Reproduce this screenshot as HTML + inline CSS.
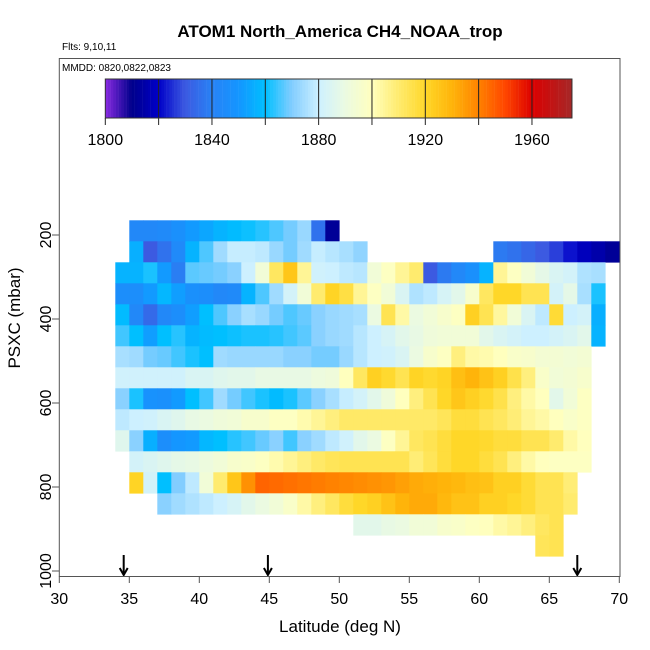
<!DOCTYPE html>
<html><head><meta charset="utf-8"><style>
html,body{margin:0;padding:0;background:#fff}
svg{display:block;font-family:"Liberation Sans",Arial,sans-serif}
</style></head><body>
<svg id="chart" width="650" height="650" viewBox="0 0 650 650" xmlns="http://www.w3.org/2000/svg">
<rect width="650" height="650" fill="#fff"/>
<text x="340" y="37" text-anchor="middle" font-size="17" font-weight="bold">ATOM1 North_America CH4_NOAA_trop</text>
<text x="62" y="50" font-size="10">Flts: 9,10,11</text>
<g id="cells"></g>
<g id="cbar"></g>
<g id="axes"></g>
<rect x="59.3" y="58.5" width="560.7" height="518" fill="none" stroke="#555" stroke-width="1"/>
<text x="62" y="71" font-size="10">MMDD: 0820,0822,0823</text>
<text x="340" y="632" text-anchor="middle" font-size="17">Latitude (deg N)</text>
<text transform="translate(20,318) rotate(-90)" text-anchor="middle" font-size="17">PSXC (mbar)</text>
</svg>
<script>
// ---- data ----
const rowPressures = [190,240,290,340,390,440,490,540,590,640,690,740,790,840,890,940];
const rowStartLat = [35,35,34,34,34,34,34,34,34,34,34,35,35,37,51,64];
const row0 = [1843,1843,1844,1847,1851,1854,1857,1859,1861,1863,1866,1869,1873,1836,1812];
const row1 = [1856,1830,1836,1844,1857,1866,1874,1879,1879,1878,1873,1869,1874,1879,1877,1875,1872,null,null,null,null,null,null,null,null,null,1838,1836,1833,1830,1827,1822,1818,1815,1812];
const row2 = [1857,1857,1862,1851,1839,1867,1868,1869,1871,1880,1893,1912,1925,1905,1881,1880,1878,1877,1893,1899,1905,1910,1830,1838,1843,1847,1857,1905,1899,1893,1888,1884,1882,1876,1875];
const row3 = [1846,1846,1851,1858,1852,1847,1846,1843,1844,1857,1866,1874,1882,1893,1910,1921,1916,1905,1899,1893,1884,1876,1878,1883,1887,1896,1912,1920,1920,1914,1914,1882,1888,1875,1862];
const row4 = [1859,1843,1834,1843,1846,1852,1860,1866,1871,1875,1873,1869,1866,1868,1871,1873,1874,1875,1890,1914,1903,1890,1893,1896,1899,1922,1914,1904,1893,1884,1878,1918,1880,1882,1856];
const row5 = [1865,1860,1852,1860,1863,1857,1859,1860,1861,1862,1862,1863,1865,1867,1871,1873,1874,1877,1880,1883,1887,1889,1892,1893,1893,1893,1887,1884,1882,1880,1880,1882,1884,1887,1857];
const row6 = [1875,1874,1869,1868,1865,1862,1860,1874,1873,1873,1873,1873,1871,1871,1869,1869,1873,1877,1880,1881,1884,1890,1896,1899,1908,1903,1902,1900,1897,1896,1894,1894,1893,1894];
const row7 = [1881,1881,1881,1881,1881,1884,1884,1886,1887,1887,1889,1889,1889,1889,1891,1892,1900,1912,1922,1919,1914,1921,1919,1921,1927,1930,1926,1922,1915,1908,1897,1893,1894,1896];
const row8 = [1871,1862,1848,1847,1851,1860,1865,1874,1869,1865,1862,1859,1862,1867,1871,1875,1879,1882,1887,1892,1900,1908,1914,1920,1925,1922,1919,1915,1908,1903,1900,1887,1893,1899];
const row9 = [1878,1880,1881,1884,1886,1889,1890,1892,1893,1896,1896,1899,1899,1902,1905,1908,1911,1911,1911,1911,1911,1911,1911,1913,1917,1917,1914,1912,1909,1905,1903,1900,1897,1899];
const row10 = [1886,1871,1856,1846,1850,1851,1858,1860,1863,1865,1868,1871,1865,1871,1874,1878,1881,1887,1890,1899,1905,1912,1914,1917,1920,1920,1919,1917,1917,1914,1914,1910,1903,1900];
const row11 = [1882,1884,1886,1888,1889,1891,1893,1896,1897,1899,1902,1905,1908,1911,1913,1914,1914,1914,1914,1914,1909,1913,1917,1920,1920,1917,1914,1908,1903,1900,1899,1899,1899];
const row12 = [1921,1882,1860,1870,1878,1893,1910,1925,1937,1945,1944,1943,1942,1941,1940,1939,1938,1937,1936,1934,1932,1931,1930,1929,1927,1926,1922,1922,1918,1914,1914,1909];
const row13 = [1871,1874,1876,1878,1880,1883,1887,1890,1893,1897,1903,1908,1912,1917,1920,1922,1926,1930,1932,1932,1929,1926,1926,1922,1922,1920,1918,1914,1914,1910];
const row14 = [1887,1887,1889,1890,1893,1893,1896,1897,1899,1900,1903,1905,1908,1912,1914];
const row15 = [1913,1914];
const rows = [row0,row1,row2,row3,row4,row5,row6,row7,row8,row9,row10,row11,row12,row13,row14,row15];
const xTicks = [30,35,40,45,50,55,60,65,70];
const yTicks = [200,400,600,800,1000];
const cbarTicks = [1800,1840,1880,1920,1960];
const flightLats = [34.6,44.9,67.0];

// ---- scales ----
const NS='http://www.w3.org/2000/svg';
const xs = lat => 59.3 + (lat-30)*14;
const ys = p => 235 + (p-200)*0.42;
const cs = v => 105.3 + (v-1800)*2.6667;
const stops = [[1800,[138,43,226]],[1810,[0,0,139]],[1820,[0,0,200]],[1830,[60,90,225]],[1840,[40,130,245]],[1850,[20,150,255]],[1860,[0,191,255]],[1870,[130,205,255]],[1880,[205,240,255]],[1890,[235,250,225]],[1900,[255,255,190]],[1910,[255,235,110]],[1920,[255,215,40]],[1930,[255,180,10]],[1940,[255,130,0]],[1950,[255,70,0]],[1960,[220,0,0]],[1975,[165,40,40]]];
function color(v){
  if(v<=stops[0][0]) return 'rgb('+stops[0][1]+')';
  for(let i=1;i<stops.length;i++){
    if(v<=stops[i][0]){
      const a=stops[i-1],b=stops[i],t=(v-a[0])/(b[0]-a[0]);
      return 'rgb('+a[1].map((c,k)=>Math.round(c+(b[1][k]-c)*t)).join(',')+')';
    }
  }
  return 'rgb('+stops[stops.length-1][1]+')';
}
function mk(tag,attrs,parent){const e=document.createElementNS(NS,tag);for(const k in attrs)e.setAttribute(k,attrs[k]);parent.appendChild(e);return e;}

// ---- heatmap ----
const cells=document.getElementById('cells');
rows.forEach((vals,i)=>{
  const p=rowPressures[i];
  vals.forEach((v,j)=>{
    if(v===null) return;
    const lat=rowStartLat[i]+j;
    const x0=xs(lat), x1=Math.min(xs(lat+1),620);
    if(x1<=x0) return;
    const r=mk('rect',{x:x0,y:ys(p-25),width:x1-x0+0.3,height:ys(p+25)-ys(p-25)+0.3,fill:color(v)},cells);
    
    
  });
});

// ---- colorbar ----
const cb=document.getElementById('cbar');
for(let v=1800;v<1975;v+=1){
  const r=mk('rect',{x:cs(v),y:79,width:2.9,height:39,fill:color(v+0.5)},cb);
  
  
}
for(let v=1820;v<=1960;v+=20){
  const l=mk('line',{x1:cs(v),x2:cs(v),y1:79,y2:125,stroke:'#222','stroke-width':1},cb);
  
  
}
const cbf=mk('rect',{x:105.3,y:79,width:cs(1975)-105.3,height:39,fill:'none',stroke:'#333','stroke-width':1},cb);


const t0=mk('line',{x1:cs(1800),x2:cs(1800),y1:118,y2:125,stroke:'#222'},cb);


cbarTicks.forEach(v=>{
  const t=mk('text',{x:cs(v),y:145,'text-anchor':'middle','font-size':16},cb);
  t.textContent=v;
  
  
});

// ---- axes ----
const ax=document.getElementById('axes');
xTicks.forEach(v=>{
  const l=mk('line',{x1:xs(v),x2:xs(v),y1:576.5,y2:583,stroke:'#555'},ax);
  
  
  const t=mk('text',{x:xs(v),y:604,'text-anchor':'middle','font-size':16},ax);
  t.textContent=v;
  
  
});
yTicks.forEach(v=>{
  const l=mk('line',{x1:52,x2:59.3,y1:ys(v),y2:ys(v),stroke:'#555'},ax);
  
  
  const t=mk('text',{transform:'translate(51,'+ys(v)+') rotate(-90)','text-anchor':'middle','font-size':16},ax);
  t.textContent=v;
  
  
});
flightLats.forEach(v=>{
  const g=mk('g',{stroke:'#000','stroke-width':2,fill:'none'},ax);
  
  
  mk('line',{x1:xs(v),x2:xs(v),y1:555,y2:575},g);
  mk('polyline',{points:(xs(v)-4)+',568 '+xs(v)+',575 '+(xs(v)+4)+',568'},g);
});
</script>
</body></html>
